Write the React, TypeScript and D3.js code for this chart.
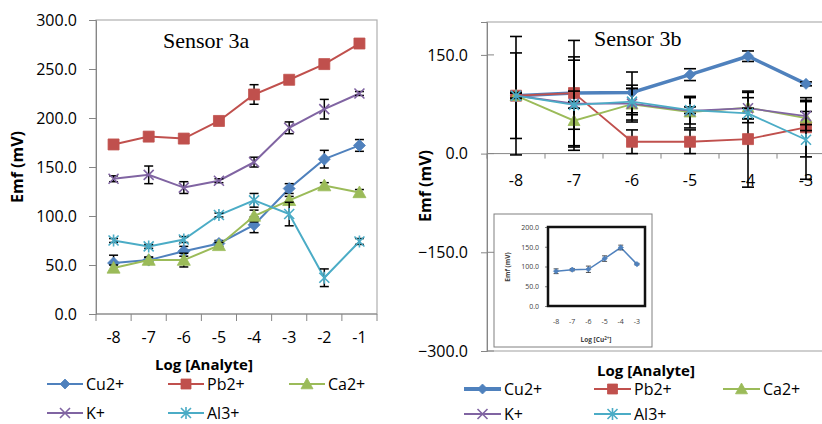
import * as d3 from 'd3';
import { useEffect, useRef } from 'react';

const categoriesA = ['-8', '-7', '-6', '-5', '-4', '-3', '-2', '-1'];
const categoriesB = ['-8', '-7', '-6', '-5', '-4', '-3'];

const seriesNames = ['Cu2+', 'Pb2+', 'Ca2+', 'K+', 'Al3+'];
const seriesColors = ['#4F81BD', '#C0504D', '#9BBB59', '#8064A2', '#4BACC6'];
const seriesMarkers = ['diamond', 'square', 'triangle', 'x', 'star'];

// Sensor 3a
const cuA = [52, 55, 64, 72, 91, 128, 158, 172];
const pbA = [173, 181, 179, 197, 224, 239, 255, 276];
const caA = [47, 55, 55, 70, 100, 116, 131, 124];
const kA = [138, 142, 129, 136, 155, 190, 209, 225];
const alA = [75, 69, 76, 101, 116, 102, 37, 74];
const cuAErr = [8, 3, 5, 3, 8, 5, 9, 6];
const pbAErr = [2, 4, 3, 2, 10, 2, 2, 2];
const caAErr = [3, 3, 7, 3, 6, 4, 3, 3];
const kAErr = [3, 9, 6, 2, 5, 6, 10, 2];
const alAErr = [2, 2, 3, 2, 7, 12, 9, 3];

// Sensor 3b
const cuB = [88, 92, 93, 120, 148, 106];
const pbB = [88, 92, 18, 18, 22, 40];
const caB = [88, 50, 75, 63, 70, 54];
const kB = [88, 76, 76, 65, 69, 57];
const alB = [88, 74, 79, 66, 61, 21];
const cuBErr = [90, 80, 31, 9, 8, 3];
const pbBErr = [65, 55, 18, 18, 73, 45];
const caBErr = [5, 45, 24, 24, 23, 10];
const kBErr = [4, 66, 28, 20, 16, 22];
const alBErr = [4, 5, 20, 5, 8, 60];

// inset (Cu2+ only)
const cuInsetErr = [6, 3, 8, 7, 6, 2];

const ticksA = [0, 50, 100, 150, 200, 250, 300];
const ticksB = [-300, -150, 0, 150];
const ticksInset = [0, 50, 100, 150, 200];

const FONT = '"Open Sans", "DejaVu Sans", sans-serif';

const markerPath = (type: string, r: number) => {
  if (type === 'diamond') return `M0,${-r}L${r},0L0,${r}L${-r},0Z`;
  if (type === 'square') return `M${-r},${-r}h${2 * r}v${2 * r}h${-2 * r}Z`;
  if (type === 'triangle') return `M0,${-r}L${r},${r * 0.8}L${-r},${r * 0.8}Z`;
  const x = `M${-r},${-r}L${r},${r}M${-r},${r}L${r},${-r}`;
  if (type === 'x') return x;
  return x + `M0,${-r * 1.2}V${r * 1.2}`;
};

const drawMarker = (g: any, type: string, color: string, cx: number, cy: number, r: number) => {
  const open = type === 'x' || type === 'star';
  g.append('path')
    .attr('d', markerPath(type, r))
    .attr('transform', `translate(${cx},${cy})`)
    .attr('fill', open ? 'none' : color)
    .attr('stroke', color)
    .attr('stroke-width', open ? 1.6 : 0.8);
};

const drawSeries = (g: any, x: any, y: any, cats: string[], vals: number[], errs: number[], i: number, opt: any) => {
  const color = seriesColors[i];
  const pts = cats.map((c, k) => [x(c) + x.bandwidth() / 2, y(vals[k])] as [number, number]);
  g.append('path')
    .attr('d', d3.line()(pts))
    .attr('fill', 'none')
    .attr('stroke', color)
    .attr('stroke-width', opt.lineWidth ? opt.lineWidth(i) : 2);
  const eb = g.append('g').attr('stroke', '#000').attr('stroke-width', opt.errWidth);
  cats.forEach((c, k) => {
    const cx = pts[k][0];
    const y1 = y(vals[k] - errs[k]);
    const y2 = y(vals[k] + errs[k]);
    eb.append('line').attr('x1', cx).attr('x2', cx).attr('y1', y1).attr('y2', y2);
    eb.append('line').attr('x1', cx - opt.cap).attr('x2', cx + opt.cap).attr('y1', y1).attr('y2', y1);
    eb.append('line').attr('x1', cx - opt.cap).attr('x2', cx + opt.cap).attr('y1', y2).attr('y2', y2);
  });
  pts.forEach(p => drawMarker(g, seriesMarkers[i], color, p[0], p[1], opt.marker(i)));
};

const styleAxis = (sel: any, size: number) => {
  sel.select('.domain').attr('stroke', '#868686');
  sel.selectAll('.tick line').attr('stroke', '#868686');
  sel.selectAll('.tick text').attr('fill', '#000').style('font-family', FONT).style('font-size', size + 'px');
};

const App = () => {
  const svgRef = useRef<SVGSVGElement>(null);

  useEffect(() => {
    const svg = d3.select(svgRef.current);
    svg.selectAll('*').remove();

    // ---------------- Sensor 3a ----------------
    const xA = d3.scaleBand().domain(categoriesA).range([96, 377]);
    const yA = d3.scaleLinear().domain([0, 300]).range([314, 20]);
    const gA = svg.append('g');

    gA.append('rect').attr('x', 96).attr('y', 20).attr('width', 281).attr('height', 294)
      .attr('fill', '#fff').attr('stroke', '#b0b0b0').attr('stroke-width', 1.2);

    gA.append('g').attr('transform', 'translate(96,0)')
      .call(d3.axisLeft(yA).tickValues(ticksA).tickSize(7).tickPadding(12).tickFormat(d3.format('.1f')) as any)
      .call((s: any) => styleAxis(s, 16));

    gA.append('line').attr('x1', 96).attr('x2', 377).attr('y1', 314).attr('y2', 314).attr('stroke', '#868686');
    const boundsA = categoriesA.map(c => xA(c) as number).concat([377]);
    boundsA.forEach(b => gA.append('line').attr('x1', b).attr('x2', b).attr('y1', 314).attr('y2', 321).attr('stroke', '#868686'));
    categoriesA.forEach(c => gA.append('text').attr('x', (xA(c) as number) + xA.bandwidth() / 2).attr('y', 343)
      .attr('text-anchor', 'middle').style('font-family', FONT).style('font-size', '16px').text(c));

    const valsA = [cuA, pbA, caA, kA, alA];
    const errsA = [cuAErr, pbAErr, caAErr, kAErr, alAErr];
    const optA = { errWidth: 1.5, cap: 4.5, marker: (i: number) => (i === 0 ? 6 : i === 1 ? 5.5 : i === 2 ? 6.5 : 5) };
    valsA.forEach((v, i) => drawSeries(gA, xA, yA, categoriesA, v, errsA[i], i, optA));

    gA.append('text').attr('x', 163).attr('y', 48)
      .style('font-family', '"Liberation Serif", "Times New Roman", serif').style('font-size', '22px').text('Sensor 3a');

    gA.append('text').attr('transform', 'translate(23,167) rotate(-90)').attr('text-anchor', 'middle')
      .style('font-family', FONT).style('font-size', '16px').style('font-weight', 'bold').text('Emf (mV)');
    gA.append('text').attr('x', 204).attr('y', 370).attr('text-anchor', 'middle')
      .style('font-family', FONT).style('font-size', '15px').style('font-weight', 'bold').text('Log [Analyte]');

    // ---------------- Sensor 3b ----------------
    const xB = d3.scaleBand().domain(categoriesB).range([487, 835]);
    const yB = d3.scaleLinear().domain([-300, 200]).range([351, 22]);
    const gB = svg.append('g');

    gB.append('rect').attr('x', 487).attr('y', 22).attr('width', 348).attr('height', 329)
      .attr('fill', '#fff').attr('stroke', '#b0b0b0').attr('stroke-width', 1.2);
    gB.append('g').attr('transform', 'translate(487,0)')
      .call(d3.axisLeft(yB).tickValues(ticksB).tickSize(6).tickPadding(13).tickFormat(d3.format('.1f')) as any)
      .call((s: any) => styleAxis(s, 16));
    ticksB.forEach(t => gB.append('line').attr('x1', 487).attr('x2', 494).attr('y1', yB(t)).attr('y2', yB(t)).attr('stroke', '#868686'));

    const y0 = yB(0);
    gB.append('line').attr('x1', 487).attr('x2', 835).attr('y1', y0).attr('y2', y0).attr('stroke', '#868686');
    const boundsB = categoriesB.map(c => xB(c) as number).concat([835]);
    boundsB.forEach(b => gB.append('line').attr('x1', b).attr('x2', b).attr('y1', y0).attr('y2', y0 + 5).attr('stroke', '#868686'));
    categoriesB.forEach(c => gB.append('text').attr('x', (xB(c) as number) + xB.bandwidth() / 2).attr('y', 186)
      .attr('text-anchor', 'middle').style('font-family', FONT).style('font-size', '16px').text(c));

    const valsB = [cuB, pbB, caB, kB, alB];
    const errsB = [cuBErr, pbBErr, caBErr, kBErr, alBErr];
    const optB = {
      errWidth: 1.6, cap: 6,
      lineWidth: (i: number) => (i === 0 ? 3.5 : 1.8),
      marker: (i: number) => (i === 0 ? 5.5 : i === 1 ? 5.5 : i === 2 ? 6 : 5),
    };
    valsB.forEach((v, i) => drawSeries(gB, xB, yB, categoriesB, v, errsB[i], i, optB));

    gB.append('text').attr('x', 594).attr('y', 46)
      .style('font-family', '"Liberation Serif", "Times New Roman", serif').style('font-size', '22px').text('Sensor 3b');
    gB.append('text').attr('transform', 'translate(431,186) rotate(-90)').attr('text-anchor', 'middle')
      .style('font-family', FONT).style('font-size', '16px').style('font-weight', 'bold').text('Emf (mV)');
    gB.append('text').attr('x', 646).attr('y', 376).attr('text-anchor', 'middle')
      .style('font-family', FONT).style('font-size', '15px').style('font-weight', 'bold').text('Log [Analyte]');

    // ---------------- inset ----------------
    const xI = d3.scaleBand().domain(categoriesB).range([548, 645]);
    const yI = d3.scaleLinear().domain([0, 200]).range([306, 227]);
    const gI = svg.append('g');
    gI.append('rect').attr('x', 494).attr('y', 214).attr('width', 158).attr('height', 133)
      .attr('fill', '#fff').attr('stroke', '#808080').attr('stroke-width', 1);
    gI.append('g').attr('transform', 'translate(548,0)')
      .call(d3.axisLeft(yI).tickValues(ticksInset).tickSize(3).tickPadding(6).tickFormat(d3.format('.1f')) as any)
      .call((s: any) => {
        styleAxis(s, 7);
        s.selectAll('.tick text').attr('fill', '#404040');
      });
    gI.append('rect').attr('x', 548).attr('y', 227).attr('width', 97).attr('height', 79)
      .attr('fill', 'none').attr('stroke', '#111').attr('stroke-width', 2.5);
    categoriesB.forEach(c => gI.append('text').attr('x', (xI(c) as number) + xI.bandwidth() / 2).attr('y', 324)
      .attr('text-anchor', 'middle').attr('fill', '#404040').style('font-family', FONT).style('font-size', '7px').text(c));
    const ptsI = categoriesB.map((c, k) => [(xI(c) as number) + xI.bandwidth() / 2, yI(cuB[k])] as [number, number]);
    gI.append('path').attr('d', d3.line()(ptsI)).attr('fill', 'none').attr('stroke', seriesColors[0]).attr('stroke-width', 1.5);
    ptsI.forEach((p, k) => {
      const ya = yI(cuB[k] - cuInsetErr[k]);
      const yb = yI(cuB[k] + cuInsetErr[k]);
      gI.append('path').attr('d', `M${p[0]},${ya}V${yb}M${p[0] - 2.5},${ya}h5M${p[0] - 2.5},${yb}h5`)
        .attr('stroke', '#222').attr('stroke-width', 0.8).attr('fill', 'none');
      drawMarker(gI, 'diamond', seriesColors[0], p[0], p[1], 2.6);
    });
    gI.append('text').attr('transform', 'translate(510,267) rotate(-90)').attr('text-anchor', 'middle').attr('fill', '#404040')
      .style('font-family', FONT).style('font-size', '6.5px').style('font-weight', 'bold').text('Emf (mV)');
    const tI = gI.append('text').attr('x', 596).attr('y', 342).attr('text-anchor', 'middle').attr('fill', '#404040')
      .style('font-family', FONT).style('font-size', '6.5px').style('font-weight', 'bold');
    tI.append('tspan').text('Log [Cu');
    tI.append('tspan').attr('dy', -2.5).style('font-size', '4.5px').text('2+');
    tI.append('tspan').attr('dy', 2.5).text(']');

    // ---------------- legends ----------------
    const legend = (cols: number[], rows: number[], len: number, cuWidth: number) => {
      const gl = svg.append('g');
      seriesNames.forEach((name, i) => {
        const x0 = cols[i % 3];
        const yy = rows[Math.floor(i / 3)];
        gl.append('line').attr('x1', x0).attr('x2', x0 + len).attr('y1', yy).attr('y2', yy)
          .attr('stroke', seriesColors[i]).attr('stroke-width', i === 0 ? cuWidth : 2);
        drawMarker(gl, seriesMarkers[i], seriesColors[i], x0 + len / 2, yy, i === 2 ? 6 : 5);
        gl.append('text').attr('x', x0 + len + 3).attr('y', yy + 6)
          .style('font-family', FONT).style('font-size', '16px').text(name);
      });
    };
    legend([47, 168, 289], [384, 413], 36, 2);
    legend([464, 594, 723], [389, 414], 37, 4);
  }, []);

  return (
    <svg ref={svgRef} width={822} height={424} style={{ position: 'absolute', left: 0, top: 0, background: '#fff' }}></svg>
  );
};

export default App;
